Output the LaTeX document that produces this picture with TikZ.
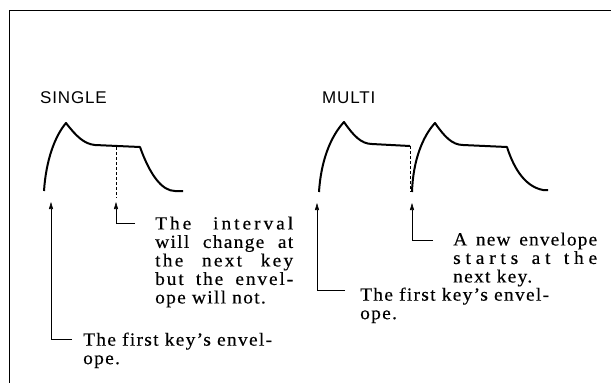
\documentclass[tikz,border=0pt]{standalone}
\usepackage{fontspec}
\usetikzlibrary{arrows.meta}
\newfontfamily\bodyfont[FakeStretch=1.05,LetterSpace=7,FakeBold=0.4]{Liberation Serif}
\newfontfamily\labelfont[LetterSpace=5]{Liberation Sans}
\newcommand\jline[3]{\makebox[#1][s]{\addfontfeature{LetterSpace=#2}#3}}
\tikzset{
  frame/.style={line width=0.9pt},
  env/.style={line width=2pt, line join=round},
  guide/.style={line width=0.6pt, dash pattern=on 3pt off 2pt},
  arr/.style={line width=0.6pt, -{Triangle[length=7pt,width=4pt]}},
  note/.style={anchor=north west, inner sep=0pt, align=left,
    font={\bodyfont\fontsize{18.5}{18.5}\selectfont}},
  head/.style={anchor=base west, inner sep=0pt,
    font={\labelfont\fontsize{17}{20}\selectfont}}
}
\begin{document}
\begin{tikzpicture}[x=1pt,y=-1pt]
\useasboundingbox (0,0) rectangle (611,383);
% frame
\draw[frame] (9,383) -- (9,10) -- (611,10);
% headings
\node[head] (hs) at (40,103) {SINGLE};
\node[head] (hm) at (322,103) {MULTI};
% SINGLE envelope
\draw[env] (44,191) .. controls (46,160) and (55,136) .. (66,123)
  .. controls (76,136) and (84,144) .. (95,145) -- (140,147)
  .. controls (150,175) and (162,191) .. (175,191) -- (183,191);
% MULTI envelopes
\draw[env] (319,192) .. controls (321,160) and (331,136) .. (344,122)
  .. controls (353,135) and (361,144) .. (372,144) -- (410,146);
\draw[env] (412,192) .. controls (413,160) and (423,136) .. (435,123)
  .. controls (444,136) and (452,145) .. (463,145) -- (507,147)
  .. controls (515,172) and (527,187) .. (543,190) -- (548,190);
% dashed guides
\draw[guide] (116,147) -- (116,198);
\draw[guide] (410,146) -- (410,192);
% notes
\node[note] (n1) at (155,216.4) {\jline{138pt}{16}{The interval}\\
  \jline{138pt}{7}{will change at}\\
  \jline{138pt}{12}{the next key}\\
  \jline{138pt}{10}{but the envel-}\\
  ope will not.};
\node[note] (n2) at (83,332.4) {The first key’s envel-\\ope.};
\node[note] (n3) at (453,232.4) {\jline{144pt}{6}{A new envelope}\\
  \jline{144pt}{26}{starts at the}\\
  next key.};
\node[note] (n4) at (360,287.4) {The first key’s envel-\\ope.};
% connector ends
\coordinate (t1) at (116,202);
\coordinate (e1) at (135,223);
\coordinate (t2) at (51,202);
\coordinate (e2) at (72,339);
\coordinate (t3) at (412,203);
\coordinate (e3) at (433,240);
\coordinate (t4) at (317,203);
\coordinate (e4) at (345,290);
\draw[arr] (e1) -| (t1);
\draw[arr] (e2) -| (t2);
\draw[arr] (e3) -| (t3);
\draw[arr] (e4) -| (t4);
\end{tikzpicture}
\end{document}
